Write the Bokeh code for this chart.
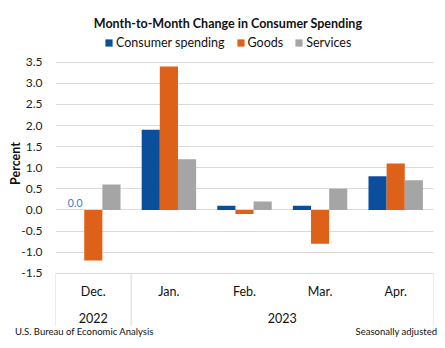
from bokeh.plotting import figure
from bokeh.layouts import column
from bokeh.models import Range1d, FixedTicker, Label, Legend, LegendItem, ColumnDataSource, CustomJSTickFormatter, Div
from bokeh.core.properties import value
from bokeh.embed import file_html
from bokeh.resources import INLINE

# ---- data ----
months = ["Dec.", "Jan.", "Feb.", "Mar.", "Apr."]
years = ["2022", "2023", "2023", "2023", "2023"]
consumer_spending = [0.0, 1.9, 0.1, 0.1, 0.8]
goods = [-1.2, 3.4, -0.1, -0.8, 1.1]
services = [0.6, 1.2, 0.2, 0.5, 0.7]
series_names = ["Consumer spending", "Goods", "Services"]
y_ticks = [-1.5, -1.0, -0.5, 0.0, 0.5, 1.0, 1.5, 2.0, 2.5, 3.0, 3.5]
title_text = "Month-to-Month Change in Consumer Spending"
source_text = "U.S. Bureau of Economic Analysis"
note_text = "Seasonally adjusted"

# ---- style ----
FONT = "Lato"
colors = ["#0B4F9C", "#DD6119", "#A5A5A5"]
W, H = 445, 348
MAIN_H = 326
FOOT_H = H - MAIN_H
LEFT, RIGHT = 55, 12
PX_PER_UNIT = 42.2          # pixels per 1 percentage point
Y_TOP_TICK_PX = 61.7        # pixel row of the 3.5 gridline


def y_at(py):
    """data value at a given pixel row (frame spans the full plot height)"""
    return y_ticks[-1] - (py - Y_TOP_TICK_PX) / PX_PER_UNIT


n = len(months)
p = figure(width=W, height=MAIN_H, output_backend="svg", toolbar_location=None,
           x_range=Range1d(0, n), y_range=Range1d(y_at(MAIN_H), y_at(0)),
           min_border_left=LEFT, min_border_right=RIGHT,
           min_border_top=0, min_border_bottom=0)
p.outline_line_color = None
p.background_fill_color = "white"
p.border_fill_color = "white"
p.xaxis.visible = False
p.xgrid.visible = False

# y axis
p.yaxis.ticker = FixedTicker(ticks=y_ticks)
p.yaxis.formatter = CustomJSTickFormatter(code="return tick.toFixed(1);")
p.yaxis.axis_line_color = None
p.yaxis.major_tick_line_color = None
p.yaxis.minor_tick_line_color = None
p.yaxis.major_tick_out = 0
p.yaxis.major_label_standoff = 13
p.yaxis.major_label_text_font = FONT
p.yaxis.major_label_text_font_size = "12px"
p.yaxis.major_label_text_color = "#222222"
p.yaxis.axis_label = "Percent"
p.yaxis.axis_label_text_font = FONT
p.yaxis.axis_label_text_font_size = "12.5px"
p.yaxis.axis_label_text_font_style = "bold"
p.yaxis.axis_label_text_color = "#111111"
p.yaxis.axis_label_standoff = -5
p.ygrid.ticker = FixedTicker(ticks=y_ticks)
p.ygrid.grid_line_color = "#D9D9D9"
p.ygrid.grid_line_width = 1

# bars
bar_w = 0.24
offsets = [-bar_w, 0.0, bar_w]
renderers = []
for vals, off, col, name in zip([consumer_spending, goods, services], offsets, colors, series_names):
    src = ColumnDataSource(dict(x=[i + 0.5 + off for i in range(n)], top=vals))
    r = p.vbar(x="x", top="top", bottom=0, width=bar_w, source=src,
               fill_color=col, line_color=None)
    renderers.append(r)

# zero-value data label for Dec. consumer spending
zero_idx = [i for i, v in enumerate(consumer_spending) if v == 0.0]
p.text(x=[i + 0.5 + offsets[0] for i in zero_idx], y=[consumer_spending[i] for i in zero_idx],
       text=["%.1f" % consumer_spending[i] for i in zero_idx],
       text_font=value(FONT), text_font_size="10.5px", text_color="#3C78C8",
       text_align="center", text_baseline="bottom", y_offset=-3)

# category axis (months + year groups)
axis_bottom = y_at(MAIN_H)
p.text(x=[i + 0.5 for i in range(n)], y=[y_at(291)] * n, text=months,
       text_font=value(FONT), text_font_size="12.5px", text_color="#111111",
       text_align="center", text_baseline="middle")
groups = []
for i, yr in enumerate(years):
    if groups and groups[-1][0] == yr:
        groups[-1][2] = i + 1
    else:
        groups.append([yr, i, i + 1])
p.text(x=[(g[1] + g[2]) / 2 for g in groups], y=[y_at(317)] * len(groups),
       text=[g[0] for g in groups],
       text_font=value(FONT), text_font_size="12.5px", text_color="#111111",
       text_align="center", text_baseline="middle")
bounds = sorted(set([g[1] for g in groups] + [g[2] for g in groups]))
p.segment(x0=bounds, x1=bounds, y0=[y_ticks[0]] * len(bounds), y1=[axis_bottom] * len(bounds),
          line_color="#D9D9D9", line_width=1)

# legend
legend = Legend(items=[LegendItem(label=nm, renderers=[r]) for nm, r in zip(series_names, renderers)],
                orientation="horizontal", location=(49, MAIN_H - 50),
                glyph_width=9, glyph_height=9, label_standoff=3, spacing=11,
                padding=0, margin=0, border_line_color=None, background_fill_alpha=0,
                label_text_font=FONT, label_text_font_size="12.5px", label_text_color="#111111",
                label_height=14)
p.add_layout(legend, "center")

# title
p.add_layout(Label(x=227.5 - LEFT, y=MAIN_H - 23, x_units="screen", y_units="screen", text=title_text,
                   text_font=FONT, text_font_size="12.5px", text_font_style="bold",
                   text_align="center", text_baseline="middle", text_color="#111111"))

# footer strip
footer_html = (
    '<div style="position:relative;width:%dpx;height:%dpx;font-family:%s;font-size:9.5px;'
    'line-height:12px;color:#111111;background:white;">'
    '<span style="position:absolute;left:15px;top:0px;white-space:nowrap;">%s</span>'
    '<span style="position:absolute;right:8px;top:0px;white-space:nowrap;">%s</span>'
    '</div>' % (W, FOOT_H, FONT, source_text, note_text)
)
footer = Div(text=footer_html, width=W, height=FOOT_H, margin=(0, 0, 0, 0))

layout = column(p, footer, spacing=0)
open("out.html", "w").write(file_html(layout, INLINE))
